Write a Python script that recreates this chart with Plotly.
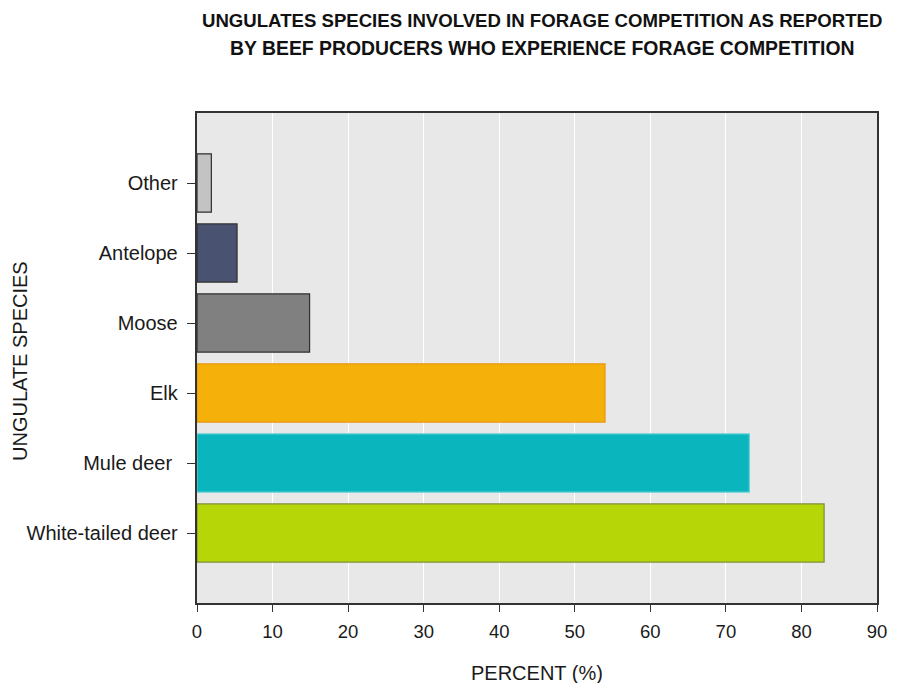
import plotly.graph_objects as go

categories = ["White-tailed deer", "Mule deer ", "Elk", "Moose", "Antelope", "Other"]
values = [83.0, 73.1, 54.0, 14.9, 5.3, 1.9]
fill_colors = ["#b6d607", "#0ab5bd", "#f5b00a", "#808080", "#4a5272", "#c3c3c3"]
line_colors = ["#7f8f3a", "#5fd0d8", "#e8960a", "#2e2e2e", "#2e2e2e", "#2e2e2e"]
x_ticks = [0, 10, 20, 30, 40, 50, 60, 70, 80, 90]
title_lines = ["UNGULATES SPECIES INVOLVED IN FORAGE COMPETITION AS REPORTED",
               "BY BEEF PRODUCERS WHO EXPERIENCE FORAGE COMPETITION"]
x_title = "PERCENT (%)"
y_title = "UNGULATE SPECIES"

FONT = "Liberation Sans, Arial, sans-serif"

fig = go.Figure()
fig.add_trace(go.Bar(
    y=categories, x=values, orientation="h",
    marker=dict(color=fill_colors, line=dict(color=line_colors, width=1.2)),
    width=0.83,
))

fig.update_layout(
    width=900, height=675,
    margin=dict(l=189, r=31, t=105, b=80),
    paper_bgcolor="white", plot_bgcolor="#e8e8e8",
    showlegend=False,
    font=dict(family=FONT, size=18, color="#1a1a1a"),
)
for txt, yy, fs in zip(title_lines, [1.1878, 1.1327], [18.6, 19.4]):
    fig.add_annotation(text="<b>" + txt + "</b>", xref="paper", yref="paper",
                       x=0.5074, y=yy, xanchor="center", yanchor="middle",
                       showarrow=False, font=dict(family=FONT, size=fs, color="#111111"))
fig.add_annotation(text=x_title, xref="paper", yref="paper", x=0.5, y=-0.1429,
                   xanchor="center", yanchor="middle", showarrow=False,
                   font=dict(family=FONT, size=20, color="#1a1a1a"))
fig.add_annotation(text=y_title, xref="paper", yref="paper", x=-0.2603, y=0.4939,
                   xanchor="center", yanchor="middle", textangle=-90, showarrow=False,
                   font=dict(family=FONT, size=20, color="#1a1a1a"))

fig.update_xaxes(
    range=[0, 90], tickvals=x_ticks, ticks="outside", ticklen=7, tickcolor="#333",
    showline=True, linecolor="#333", linewidth=1.5, mirror=True,
    showgrid=True, gridcolor="white", gridwidth=1.2, zeroline=False,
    tickfont=dict(size=18.5), ticklabelstandoff=4,
)
fig.update_yaxes(
    range=[-1, 6], ticks="outside", ticklen=8, tickcolor="#333",
    showline=True, linecolor="#333", linewidth=1.5, mirror=True,
    showgrid=False,
    tickfont=dict(size=20), ticksuffix=" ",
)
fig.write_html("out.html")
